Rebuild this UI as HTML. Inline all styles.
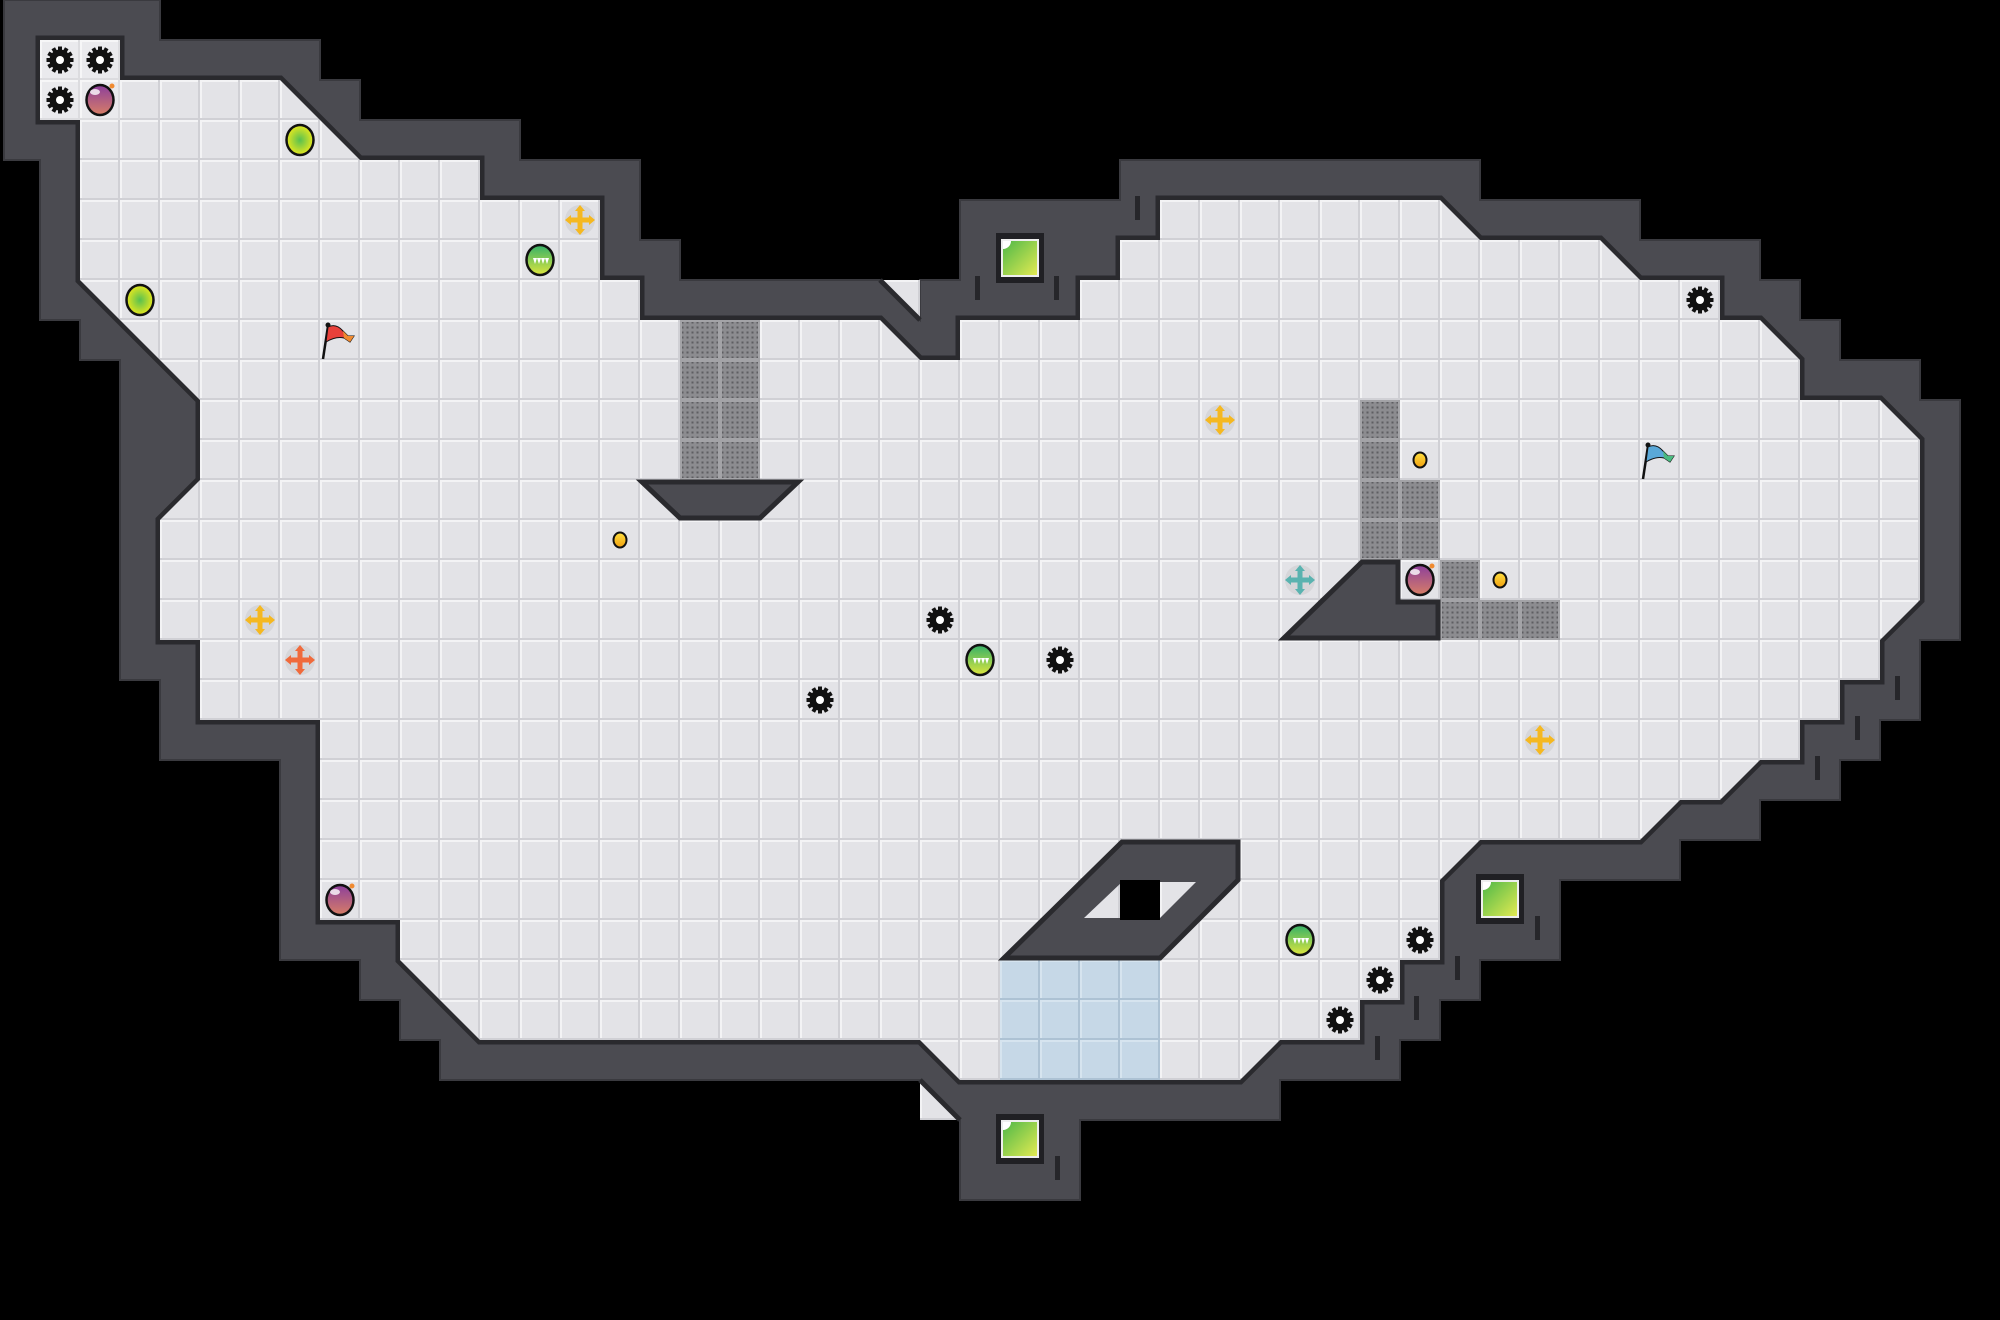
<!DOCTYPE html>
<html><head><meta charset="utf-8"><style>html,body{margin:0;padding:0;background:#000}svg{display:block}</style></head><body>
<svg width="2000" height="1320" viewBox="0 0 2000 1320" xmlns="http://www.w3.org/2000/svg">
<defs>
<pattern id="tile" x="0" y="0" width="40" height="40" patternUnits="userSpaceOnUse">
<rect width="40" height="40" fill="#e3e3e7"/>
<rect x="0" y="0" width="40" height="2" fill="#f3f3f5"/>
<rect x="0" y="0" width="2" height="40" fill="#f3f3f5"/>
<rect x="38" y="0" width="2" height="40" fill="#d0d0d5"/>
<rect x="0" y="38" width="40" height="2" fill="#d0d0d5"/>
</pattern>
<pattern id="blue" x="0" y="0" width="40" height="40" patternUnits="userSpaceOnUse">
<rect width="40" height="40" fill="#c6d8e7"/>
<rect x="0" y="0" width="40" height="2" fill="#d6e4ef"/>
<rect x="0" y="0" width="2" height="40" fill="#d6e4ef"/>
<rect x="38" y="0" width="2" height="40" fill="#adc2d4"/>
<rect x="0" y="38" width="40" height="2" fill="#adc2d4"/>
</pattern>
<pattern id="dots" x="0" y="0" width="5" height="5" patternUnits="userSpaceOnUse">
<rect width="5" height="5" fill="#8c8c90"/><rect x="1.5" y="1.5" width="2" height="2" fill="#5e5e62"/>
</pattern>
<g id="grate"><rect width="40" height="40" fill="#a3a3a7"/><rect x="2" y="2" width="36" height="36" fill="url(#dots)"/></g>
<g id="gear"><circle r="10.5" fill="#111"/>
<g fill="#111"><rect x="-2" y="-13.5" width="4" height="27"/><rect x="-2" y="-13.5" width="4" height="27" transform="rotate(30)"/><rect x="-2" y="-13.5" width="4" height="27" transform="rotate(60)"/><rect x="-2" y="-13.5" width="4" height="27" transform="rotate(90)"/><rect x="-2" y="-13.5" width="4" height="27" transform="rotate(120)"/><rect x="-2" y="-13.5" width="4" height="27" transform="rotate(150)"/></g>
<circle r="4" fill="#fff"/></g>
<radialGradient id="gy"><stop offset="0" stop-color="#58c050"/><stop offset="1" stop-color="#e6e81e"/></radialGradient>
<g id="orb"><ellipse rx="13.5" ry="15" fill="url(#gy)" stroke="#111" stroke-width="2.5"/></g>
<linearGradient id="gg" x1="0" y1="0" x2="0" y2="1"><stop offset="0" stop-color="#34b068"/><stop offset="1" stop-color="#dde63e"/></linearGradient>
<g id="gorb"><ellipse rx="13.5" ry="15" fill="url(#gg)" stroke="#111" stroke-width="2.5"/><path d="M-9,-2 L9,-2 L7,4 L5,-2 L3,4 L1,-2 L-1,4 L-3,-2 L-5,4 L-7,-2 Z" fill="#fff"/></g>
<linearGradient id="pb" x1="0" y1="0" x2="0" y2="1"><stop offset="0" stop-color="#8c3f9c"/><stop offset="1" stop-color="#d87e66"/></linearGradient>
<g id="bomb"><ellipse rx="13.5" ry="15" fill="url(#pb)" stroke="#111" stroke-width="2.5"/><ellipse cx="-5" cy="-8" rx="5" ry="3" fill="#fff" opacity="0.8"/><circle cx="12" cy="-14" r="2.5" fill="#f08a30"/></g>
<linearGradient id="cg" x1="0" y1="0" x2="0" y2="1"><stop offset="0" stop-color="#ffe040"/><stop offset="1" stop-color="#f0a010"/></linearGradient>
<g id="coin"><ellipse rx="6.5" ry="7.5" fill="url(#cg)" stroke="#111" stroke-width="2"/></g>
<g id="cross"><circle r="15" fill="#d2d2d6" opacity="0.8"/><path d="M-2.5,-9 L-5,-9 L0,-15 L5,-9 L2.5,-9 L2.5,-2.5 L9,-2.5 L9,-5 L15,0 L9,5 L9,2.5 L2.5,2.5 L2.5,9 L5,9 L0,15 L-5,9 L-2.5,9 L-2.5,2.5 L-9,2.5 L-9,5 L-15,0 L-9,-5 L-9,-2.5 L-2.5,-2.5 Z"/></g>
<linearGradient id="eg" x1="0" y1="0" x2="1" y2="1"><stop offset="0" stop-color="#4fb848"/><stop offset="1" stop-color="#e2ea52"/></linearGradient>
<g id="exit"><rect x="-24" y="-25" width="48" height="50" fill="#202024"/><rect x="-19" y="-19" width="38" height="38" fill="#eee"/><rect x="-17" y="-17" width="34" height="34" fill="url(#eg)"/><path d="M-17,-17 L-9,-17 A8,8 0 0 1 -17,-9 Z" fill="#fff"/></g>
</defs>
<rect width="2000" height="1320" fill="#000"/>
<!-- walls -->
<polygon fill="#4b4b51" stroke="#3a3a3f" stroke-width="2" points="4,0 160,0 160,40 320,40 320,80 360,80 360,120 520,120 520,160 640,160 640,240 680,240 680,280 880,280 920,320 920,280 960,280 960,200 1120,200 1120,160 1480,160 1480,200 1640,200 1640,240 1760,240 1760,280 1800,280 1800,320 1840,320 1840,360 1920,360 1920,400 1960,400 1960,640 1920,640 1920,720 1880,720 1880,760 1840,760 1840,800 1760,800 1760,840 1680,840 1680,880 1560,880 1560,960 1480,960 1480,1000 1440,1000 1440,1040 1400,1040 1400,1080 1280,1080 1280,1120 1080,1120 1080,1200 960,1200 960,1120 920,1080 440,1080 440,1040 400,1040 400,1000 360,1000 360,960 280,960 280,760 160,760 160,680 120,680 120,360 80,360 80,320 40,320 40,160 4,160"/>
<!-- floor -->
<polygon fill="#2a2a2e" stroke="#2a2a2e" stroke-width="9" stroke-linejoin="miter" points="40,40 120,40 120,80 280,80 360,160 480,160 480,200 600,200 600,280 640,280 640,320 880,320 920,360 960,360 960,320 1080,320 1080,280 1120,280 1120,240 1160,240 1160,200 1440,200 1480,240 1600,240 1640,280 1720,280 1720,320 1760,320 1800,360 1800,400 1880,400 1920,440 1920,600 1880,640 1880,680 1840,680 1840,720 1800,720 1800,760 1760,760 1720,800 1680,800 1640,840 1480,840 1440,880 1440,960 1400,960 1400,1000 1360,1000 1360,1040 1280,1040 1240,1080 960,1080 920,1040 480,1040 400,960 400,920 320,920 320,720 200,720 200,640 160,640 160,520 200,480 200,400 80,280 80,120 40,120"/>
<g fill="url(#tile)">
<polygon points="40,40 120,40 120,80 280,80 360,160 480,160 480,200 600,200 600,280 640,280 640,320 880,320 920,360 960,360 960,320 1080,320 1080,280 1120,280 1120,240 1160,240 1160,200 1440,200 1480,240 1600,240 1640,280 1720,280 1720,320 1760,320 1800,360 1800,400 1880,400 1920,440 1920,600 1880,640 1880,680 1840,680 1840,720 1800,720 1800,760 1760,760 1720,800 1680,800 1640,840 1480,840 1440,880 1440,960 1400,960 1400,1000 1360,1000 1360,1040 1280,1040 1240,1080 960,1080 920,1040 480,1040 400,960 400,920 320,920 320,720 200,720 200,640 160,640 160,520 200,480 200,400 80,280 80,120 40,120"/>
<polygon points="880,280 920,280 920,320"/>
<polygon points="920,1080 960,1120 920,1120"/>
</g>
<line x1="880" y1="280" x2="920" y2="320" stroke="#2a2a2e" stroke-width="5"/>
<line x1="920" y1="1080" x2="960" y2="1120" stroke="#2a2a2e" stroke-width="5"/>
<rect x="40" y="40" width="80" height="80" fill="#fff" opacity="0.25"/>
<!-- light blue -->
<rect x="1000" y="960" width="160" height="120" fill="url(#blue)"/>
<!-- grates -->
<use href="#grate" x="680" y="320"/><use href="#grate" x="720" y="320"/>
<use href="#grate" x="680" y="360"/><use href="#grate" x="720" y="360"/>
<use href="#grate" x="680" y="400"/><use href="#grate" x="720" y="400"/>
<use href="#grate" x="680" y="440"/><use href="#grate" x="720" y="440"/>
<use href="#grate" x="1360" y="400"/><use href="#grate" x="1360" y="440"/>
<use href="#grate" x="1360" y="480"/><use href="#grate" x="1400" y="480"/>
<use href="#grate" x="1360" y="520"/><use href="#grate" x="1400" y="520"/>
<use href="#grate" x="1440" y="560"/>
<use href="#grate" x="1440" y="600"/><use href="#grate" x="1480" y="600"/><use href="#grate" x="1520" y="600"/>
<!-- obstacles -->
<g fill="#4b4b51" stroke="#2a2a2e" stroke-width="5" stroke-linejoin="miter">
<polygon points="642,482 798,482 760,518 680,518"/>
<polygon points="1362,562 1398,562 1398,602 1438,602 1438,638 1284,638"/>
<polygon fill-rule="evenodd" points="1122,842 1238,842 1238,880 1160,958 1004,958 1122,842 M1120,880 1200,880 1160,920 1080,920 1120,880"/>
</g>
<polygon points="1122,882 1196,882 1160,918 1084,918" fill="url(#tile)"/>
<rect x="1120" y="880" width="40" height="40" fill="#000"/>
<!-- wall dashes -->
<g fill="#26262a">
<rect x="975" y="276" width="5" height="24"/><rect x="1054" y="276" width="5" height="24"/><rect x="1135" y="196" width="5" height="24"/>
<rect x="1535" y="916" width="5" height="24"/><rect x="1455" y="956" width="5" height="24"/><rect x="1414" y="996" width="5" height="24"/><rect x="1375" y="1036" width="5" height="24"/>
<rect x="1055" y="1156" width="5" height="24"/>
<rect x="1895" y="676" width="5" height="24"/><rect x="1855" y="716" width="5" height="24"/><rect x="1815" y="756" width="5" height="24"/>
</g>
<!-- exits -->
<use href="#exit" x="1020" y="258"/>
<use href="#exit" x="1500" y="899"/>
<use href="#exit" x="1020" y="1139"/>
<!-- gears -->
<use href="#gear" x="60" y="60"/><use href="#gear" x="100" y="60"/><use href="#gear" x="60" y="100"/>
<use href="#gear" x="820" y="700"/><use href="#gear" x="940" y="620"/><use href="#gear" x="1060" y="660"/>
<use href="#gear" x="1700" y="300"/>
<use href="#gear" x="1420" y="940"/><use href="#gear" x="1380" y="980"/><use href="#gear" x="1340" y="1020"/>
<!-- orbs -->
<use href="#orb" x="300" y="140"/><use href="#orb" x="140" y="300"/>
<use href="#gorb" x="540" y="260"/><use href="#gorb" x="980" y="660"/><use href="#gorb" x="1300" y="940"/>
<!-- bombs -->
<use href="#bomb" x="100" y="100"/><use href="#bomb" x="340" y="900"/><use href="#bomb" x="1420" y="580"/>
<!-- coins -->
<use href="#coin" x="620" y="540"/><use href="#coin" x="1420" y="460"/><use href="#coin" x="1500" y="580"/>
<!-- crosses -->
<use href="#cross" x="580" y="220" fill="#f5b820"/>
<use href="#cross" x="260" y="620" fill="#f5b820"/>
<use href="#cross" x="300" y="660" fill="#f06a3c"/>
<use href="#cross" x="1220" y="420" fill="#f5b820"/>
<use href="#cross" x="1300" y="580" fill="#5ab3b0"/>
<use href="#cross" x="1540" y="740" fill="#f5b820"/>
<!-- flags -->
<g transform="translate(340,340)"><line x1="-17" y1="19" x2="-12" y2="-14" stroke="#111" stroke-width="2.5"/><circle cx="-12" cy="-15" r="2.5" fill="#111"/><path d="M-12,-13 Q-4,-17 3,-9 L8,-4 L14,-4 L10,2 L4,-2 Q-4,-4 -14,2 Z" fill="#e8403a" stroke="#111" stroke-width="1"/><path d="M3,-9 L8,-4 L14,-4 L10,2 L4,-2 Z" fill="#f08a30"/></g>
<g transform="translate(1660,460)"><line x1="-17" y1="19" x2="-12" y2="-14" stroke="#111" stroke-width="2.5"/><circle cx="-12" cy="-15" r="2.5" fill="#111"/><path d="M-12,-13 Q-4,-17 3,-9 L8,-4 L14,-4 L10,2 L4,-2 Q-4,-4 -14,2 Z" fill="#5aa8d8" stroke="#111" stroke-width="1"/><path d="M3,-9 L8,-4 L14,-4 L10,2 L4,-2 Z" fill="#4aba80"/></g>
</svg>
</body></html>
